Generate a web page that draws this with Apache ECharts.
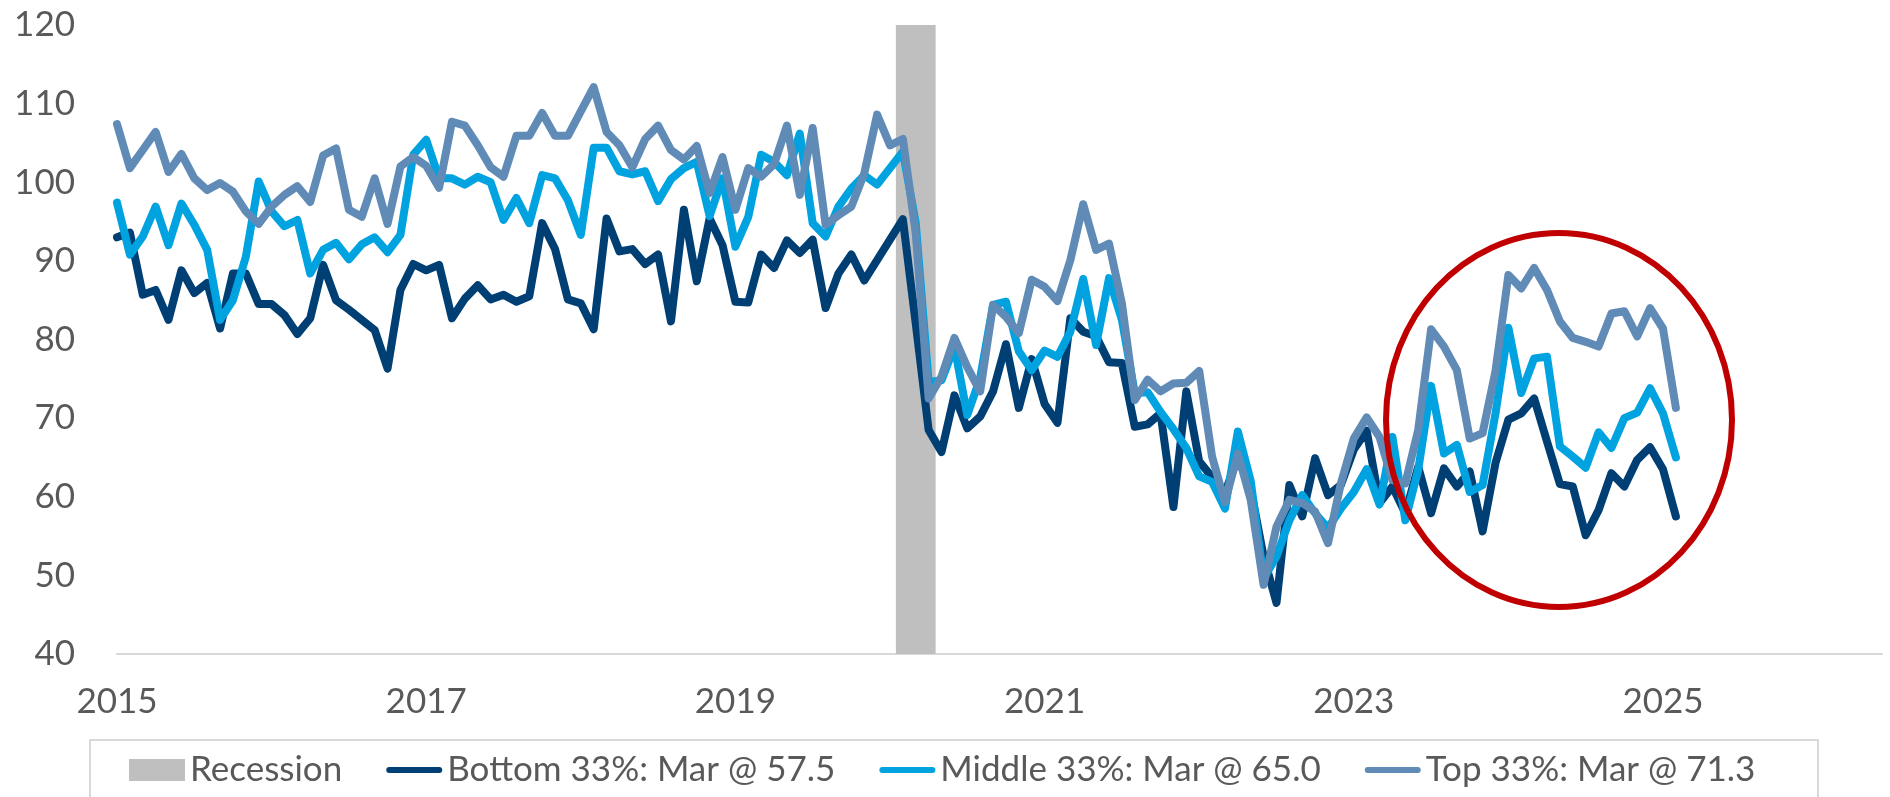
<!DOCTYPE html>
<html>
<head>
<meta charset="utf-8">
<script src="https://cdn.jsdelivr.net/npm/echarts@6/dist/echarts.min.js"></script>
<style>
  html, body { margin: 0; padding: 0; background: #fff; }
  #chart { width: 1890px; height: 797px; }
</style>
</head>
<body>
<div id="chart"></div>
<script>
// monthly, Jan 2015 onward
var bottom = [93.0, 93.6, 85.7, 86.3, 82.5, 88.8, 85.9, 87.2, 81.4, 88.4, 88.4, 84.5,
  84.5, 83.1, 80.7, 82.7, 89.5, 85.0, 83.8, 82.5, 81.2, 76.3, 86.3, 89.6,
  88.8, 89.5, 82.7, 85.2, 86.9, 85.1, 85.7, 84.8, 85.5, 94.8, 91.5, 85.1,
  84.6, 81.3, 95.4, 91.2, 91.5, 89.6, 90.8, 82.3, 96.5, 87.4, 95.4, 92.0,
  84.8, 84.7, 90.8, 89.1, 92.6, 91.0, 92.7, 84.0, 88.4, 90.8, 87.5, 90.1,
  92.7, 95.3, 82.0, 68.5, 65.7, 72.9, 68.7, 70.2, 73.4, 79.4, 71.3, 77.5,
  71.8, 69.4, 82.7, 81.0, 80.4, 77.1, 77.0, 68.9, 69.2, 70.6, 58.7, 73.4,
  64.5, 62.5, 60.5, 65.0, 61.0, 52.4, 46.5, 61.5, 57.5, 64.9, 60.2, 61.5,
  66.0, 68.4, 59.2, 61.3, 57.9, 63.8, 57.9, 63.6, 61.3, 63.2, 55.6, 64.3,
  69.8, 70.6, 72.5, 67.0, 61.6, 61.3, 55.1, 58.3, 63.0, 61.3, 64.7, 66.3,
  63.5, 57.5];

var middle = [97.4, 90.8, 93.1, 96.9, 92.0, 97.3, 94.6, 91.4, 82.5, 85.0, 90.5, 100.1,
  96.3, 94.4, 95.2, 88.4, 91.4, 92.3, 90.2, 92.1, 93.0, 91.1, 93.3, 103.5,
  105.4, 100.5, 100.5, 99.7, 100.7, 100.0, 95.2, 98.0, 94.8, 100.9, 100.5, 97.7,
  93.3, 104.4, 104.4, 101.4, 101.0, 101.4, 97.6, 100.4, 101.8, 102.6, 95.7, 100.5,
  91.8, 95.6, 103.5, 102.6, 100.9, 106.2, 94.8, 93.1, 96.9, 99.2, 100.9, 99.7,
  101.8, 103.9, 94.8, 74.6, 74.8, 79.1, 70.4, 75.1, 84.4, 84.8, 78.5, 76.1,
  78.6, 77.8, 81.0, 87.7, 79.3, 87.8, 82.5, 73.2, 73.3, 70.8, 68.6, 66.2,
  62.6, 61.9, 58.5, 68.3, 62.0, 49.6, 52.4, 57.0, 60.2, 57.9, 56.0, 58.5,
  60.6, 63.5, 59.0, 67.6, 57.0, 63.4, 74.1, 65.5, 66.6, 60.6, 61.5, 70.6,
  81.5, 73.2, 77.6, 77.8, 66.4, 65.1, 63.7, 68.2, 66.2, 70.0, 70.7, 73.8,
  70.6, 65.0];

var top33 = [107.4, 101.8, 104.1, 106.4, 101.3, 103.6, 100.5, 99.0, 99.9, 98.8, 96.3, 94.7,
  96.9, 98.4, 99.5, 97.5, 103.4, 104.3, 96.5, 95.6, 100.5, 94.7, 102.0, 103.2,
  102.1, 99.3, 107.7, 107.2, 104.7, 101.9, 100.7, 105.9, 105.9, 108.8, 105.9, 105.9,
  109.0, 112.1, 106.4, 104.7, 101.9, 105.5, 107.2, 104.1, 102.9, 104.6, 98.6, 103.2,
  96.5, 101.8, 100.7, 102.3, 107.2, 98.4, 106.9, 94.6, 95.8, 96.9, 101.1, 108.6,
  104.7, 105.5, 93.5, 72.5, 75.3, 80.2, 76.5, 73.4, 84.4, 82.9, 80.8, 87.6,
  86.7, 84.9, 90.1, 97.2, 91.4, 92.2, 84.6, 72.3, 74.9, 73.4, 74.4, 74.5,
  76.0, 65.1, 59.3, 65.5, 59.6, 48.8, 56.2, 59.6, 59.2, 58.1, 54.1, 61.7,
  67.4, 70.1, 67.6, 62.1, 61.7, 68.5, 81.3, 79.1, 76.1, 67.4, 68.1, 76.0,
  88.2, 86.5, 89.1, 86.3, 82.3, 80.2, 79.7, 79.1, 83.3, 83.6, 80.4, 84.0,
  81.4, 71.3];

var recessionMonths = ['2020-02', '2020-03', '2020-04'];
var seriesNames = ['Recession', 'Bottom 33%: Mar @ 57.5', 'Middle 33%: Mar @ 65.0', 'Top 33%: Mar @ 71.3'];
var yearLabels = ['2015', '2017', '2019', '2021', '2023', '2025'];

// month categories, axis runs on to mid 2026
var months = [];
for (var y = 2015; y <= 2026; y++) {
  for (var m = 1; m <= 12; m++) {
    months.push(y + '-' + (m < 10 ? '0' : '') + m);
  }
}
months = months.slice(0, 138);

var recessionBars = months.map(function (d) {
  return recessionMonths.indexOf(d) >= 0 ? 120 : '-';
});

var chart = echarts.init(document.getElementById('chart'), null, {renderer: 'canvas'});

var font = 'Lato, "Open Sans", sans-serif';
var lineIcon = 'path://M3,0 H53 A3,3 0 0 1 53,6 H3 A3,3 0 0 1 3,0 Z';

function lineSeries(name, data, color) {
  return {
    name: name,
    type: 'line',
    data: data,
    symbol: 'none',
    showSymbol: false,
    animation: false,
    color: color,
    lineStyle: {color: color, width: 8, cap: 'round', join: 'round'}
  };
}

chart.setOption({
  animation: false,
  backgroundColor: '#fff',
  grid: {left: 117, right: 8, top: 25, bottom: 143},
  xAxis: {
    type: 'category',
    data: months,
    boundaryGap: false,
    axisLine: {lineStyle: {color: '#D9D9D9', width: 2}},
    axisTick: {show: false},
    axisLabel: {
      color: '#595959',
      fontFamily: font,
      fontSize: 35,
      margin: 30,
      interval: function (i, v) {
        return yearLabels.indexOf(v.slice(0, 4)) >= 0 && v.slice(5) === '01';
      },
      formatter: function (v) { return v.slice(0, 4); }
    },
    splitLine: {show: false}
  },
  yAxis: {
    type: 'value',
    min: 40,
    max: 120,
    interval: 10,
    axisLine: {show: false},
    axisTick: {show: false},
    splitLine: {show: false},
    axisLabel: {color: '#595959', fontFamily: font, fontSize: 35, margin: 42}
  },
  legend: {
    left: 129,
    top: 752,
    padding: 0,
    itemWidth: 56,
    itemHeight: 22,
    itemGap: 44,
    selectedMode: false,
    textStyle: {color: '#595959', fontFamily: font, fontSize: 35, lineHeight: 36},
    itemStyle: {borderWidth: 0},
    data: [
      {name: seriesNames[0], icon: 'rect'},
      {name: seriesNames[1], icon: lineIcon},
      {name: seriesNames[2], icon: lineIcon},
      {name: seriesNames[3], icon: lineIcon}
    ]
  },
  graphic: [
    {
      type: 'rect',
      shape: {x: 90, y: 740, width: 1728, height: 80},
      style: {fill: 'none', stroke: '#D9D9D9', lineWidth: 2},
      silent: true
    },
    {
      type: 'ellipse',
      shape: {cx: 1559, cy: 420, rx: 173, ry: 187},
      style: {fill: 'none', stroke: '#C00000', lineWidth: 6},
      silent: true,
      z: 100
    }
  ],
  series: [
    {
      name: seriesNames[0],
      type: 'bar',
      data: recessionBars,
      barWidth: 14,
      itemStyle: {color: '#BFBFBF', borderWidth: 0},
      animation: false
    },
    lineSeries(seriesNames[1], bottom, '#003F74'),
    lineSeries(seriesNames[2], middle, '#00A3E0'),
    lineSeries(seriesNames[3], top33, '#5F8BB6')
  ]
});
</script>
</body>
</html>
